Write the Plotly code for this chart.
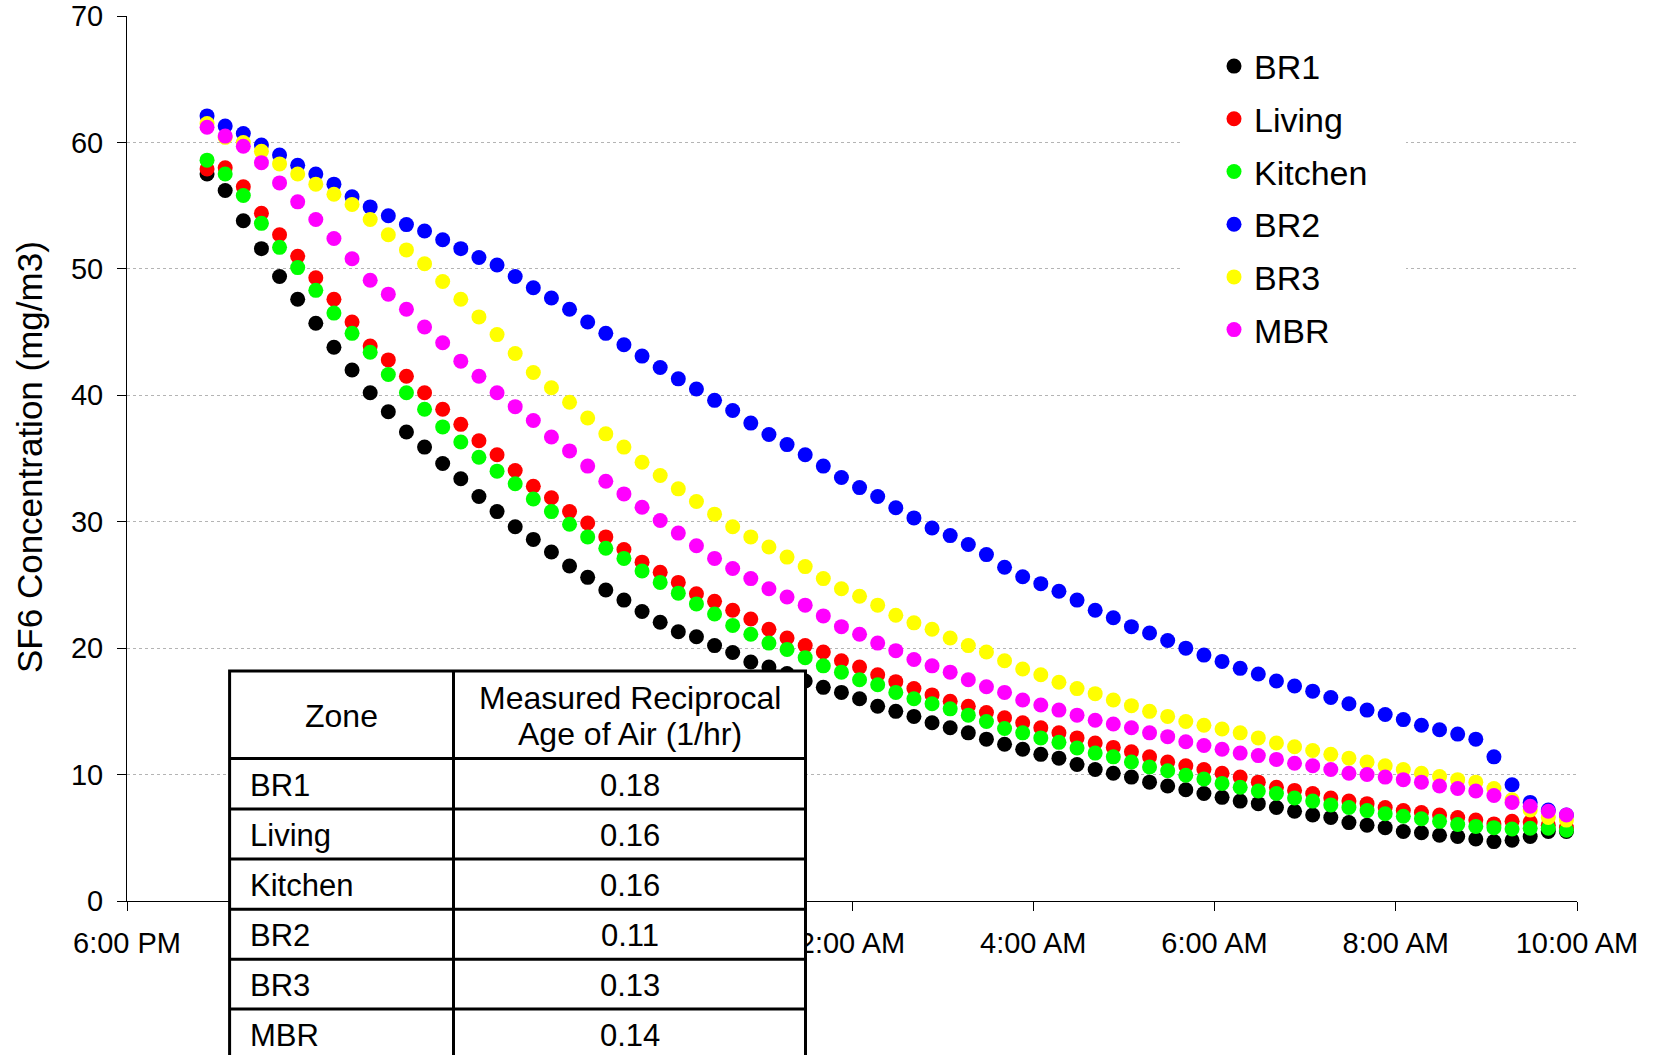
import pandas as pd
import plotly.graph_objects as go

# ---------------- data ----------------
START_TIME = "2000-01-01 18:53"
INTERVAL = "12min"

BR1 = [57.5, 56.2, 53.8, 51.6, 49.4, 47.6, 45.7, 43.8, 42.0, 40.2,
       38.7, 37.1, 35.9, 34.6, 33.4, 32.0, 30.8, 29.6, 28.6, 27.6,
       26.5, 25.6, 24.6, 23.8, 22.9, 22.05, 21.3, 20.9, 20.2, 19.65,
       18.9, 18.5, 18.0, 17.4, 16.9, 16.5, 16.0, 15.4, 15.0, 14.6,
       14.1, 13.7, 13.3, 12.8, 12.4, 12.0, 11.6, 11.3, 10.8, 10.4,
       10.1, 9.8, 9.4, 9.1, 8.8, 8.5, 8.2, 7.9, 7.7, 7.4,
       7.1, 6.8, 6.6, 6.2, 6.0, 5.8, 5.5, 5.4, 5.2, 5.1,
       4.9, 4.7, 4.8, 5.1, 5.5, 5.5]
LIVING = [57.9, 58.0, 56.5, 54.4, 52.7, 51.0, 49.3, 47.6, 45.8, 43.9,
          42.8, 41.5, 40.2, 38.9, 37.7, 36.4, 35.3, 34.05, 32.8, 31.9,
          30.8, 29.9, 28.8, 27.8, 26.8, 26.0, 25.2, 24.3, 23.7, 23.0,
          22.3, 21.5, 20.8, 20.2, 19.7, 19.0, 18.5, 17.9, 17.35, 16.8,
          16.3, 15.8, 15.4, 14.9, 14.5, 14.1, 13.7, 13.3, 12.9, 12.5,
          12.15, 11.8, 11.4, 11.0, 10.7, 10.4, 10.1, 9.8, 9.4, 9.0,
          8.75, 8.5, 8.15, 7.9, 7.7, 7.4, 7.15, 7.0, 6.8, 6.6,
          6.4, 6.1, 6.3, 6.25, 6.0, 5.8]
KITCHEN = [58.6, 57.5, 55.8, 53.6, 51.7, 50.1, 48.3, 46.5, 44.9, 43.4,
           41.65, 40.2, 38.9, 37.5, 36.3, 35.1, 34.0, 33.0, 31.8, 30.8,
           29.8, 28.8, 27.9, 27.1, 26.1, 25.2, 24.35, 23.5, 22.7, 21.8,
           21.1, 20.4, 19.9, 19.25, 18.6, 18.1, 17.5, 17.1, 16.5, 16.0,
           15.6, 15.2, 14.7, 14.2, 13.65, 13.3, 12.9, 12.55, 12.1, 11.7,
           11.4, 11.0, 10.6, 10.3, 9.95, 9.65, 9.3, 9.0, 8.7, 8.5,
           8.15, 7.9, 7.6, 7.4, 7.15, 6.9, 6.7, 6.5, 6.3, 6.05,
           5.9, 5.8, 5.7, 5.75, 5.75, 5.6]
BR2 = [62.1, 61.3, 60.7, 59.8, 59.0, 58.2, 57.5, 56.7, 55.7, 54.9,
       54.2, 53.5, 53.0, 52.3, 51.6, 50.9, 50.3, 49.4, 48.5, 47.7,
       46.8, 45.8, 44.9, 44.0, 43.1, 42.2, 41.3, 40.5, 39.6, 38.8,
       37.8, 36.9, 36.1, 35.3, 34.4, 33.5, 32.7, 32.0, 31.1, 30.3,
       29.5, 28.9, 28.2, 27.4, 26.4, 25.65, 25.1, 24.5, 23.8, 23.0,
       22.4, 21.7, 21.2, 20.6, 20.0, 19.45, 18.95, 18.4, 17.95, 17.4,
       17.0, 16.6, 16.1, 15.6, 15.1, 14.75, 14.35, 13.9, 13.55, 13.2,
       12.8, 11.4, 9.2, 7.8, 7.2, 6.8]
BR3 = [61.5, 60.4, 60.0, 59.3, 58.3, 57.5, 56.7, 55.9, 55.1, 53.9,
       52.7, 51.5, 50.4, 49.0, 47.6, 46.2, 44.8, 43.3, 41.8, 40.6,
       39.45, 38.2, 36.95, 35.9, 34.7, 33.65, 32.6, 31.6, 30.6, 29.6,
       28.8, 28.0, 27.2, 26.45, 25.5, 24.7, 24.1, 23.4, 22.6, 22.0,
       21.5, 20.8, 20.2, 19.7, 19.0, 18.35, 17.9, 17.3, 16.8, 16.4,
       15.9, 15.45, 15.0, 14.6, 14.2, 13.9, 13.6, 13.3, 12.9, 12.5,
       12.2, 11.9, 11.6, 11.3, 11.0, 10.7, 10.4, 10.1, 9.85, 9.6,
       9.4, 8.9, 8.0, 7.2, 6.6, 6.4]
MBR = [61.2, 60.5, 59.7, 58.4, 56.8, 55.3, 53.9, 52.4, 50.8, 49.1,
       48.0, 46.8, 45.4, 44.15, 42.7, 41.5, 40.2, 39.1, 38.0, 36.7,
       35.6, 34.4, 33.2, 32.2, 31.15, 30.1, 29.1, 28.1, 27.1, 26.3,
       25.5, 24.7, 24.05, 23.4, 22.55, 21.7, 21.1, 20.4, 19.8, 19.1,
       18.6, 18.1, 17.5, 16.95, 16.5, 15.9, 15.5, 15.1, 14.7, 14.3,
       14.0, 13.7, 13.3, 13.0, 12.6, 12.3, 12.0, 11.7, 11.5, 11.2,
       10.9, 10.7, 10.4, 10.1, 10.0, 9.8, 9.6, 9.4, 9.1, 8.9,
       8.7, 8.35, 7.8, 7.5, 7.1, 6.8]

SERIES_NAMES = ["BR1", "Living", "Kitchen", "BR2", "BR3", "MBR"]
SERIES_VALUES = [BR1, LIVING, KITCHEN, BR2, BR3, MBR]
SERIES_COLORS = ["#000000", "#FF0000", "#00FF00", "#0000FF", "#FFFF00", "#FF00FF"]

X_RANGE = ["2000-01-01 18:00", "2000-01-02 10:00"]
X_TICKS = ["2000-01-01 18:00", "2000-01-01 20:00", "2000-01-01 22:00",
           "2000-01-02 00:00", "2000-01-02 02:00", "2000-01-02 04:00",
           "2000-01-02 06:00", "2000-01-02 08:00", "2000-01-02 10:00"]
X_TICK_LABELS = ["6:00 PM", "8:00 PM", "10:00 PM", "12:00 AM", "2:00 AM",
                 "4:00 AM", "6:00 AM", "8:00 AM", "10:00 AM"]
Y_TICKS = [0, 10, 20, 30, 40, 50, 60, 70]

TABLE_ZONES = ["BR1", "Living", "Kitchen", "BR2", "BR3", "MBR"]
TABLE_RATES = ["0.18", "0.16", "0.16", "0.11", "0.13", "0.14"]

# ---------------- layout helpers ----------------
W, H = 1658, 1055
ML, MR, MT, MB = 127, 81, 16, 154
PW = W - ML - MR
PH = H - MT - MB
FONT = "Liberation Sans, Arial, sans-serif"


def px(x):
    return (x - ML) / PW


def py(y):
    return (H - MB - y) / PH


times = pd.date_range(START_TIME, periods=len(BR1), freq=INTERVAL)

fig = go.Figure()
for name, vals, col in zip(SERIES_NAMES, SERIES_VALUES, SERIES_COLORS):
    fig.add_trace(go.Scatter(
        x=times, y=vals, mode="markers", name=name, legendgroup=name,
        marker=dict(color=col, size=15, line=dict(width=0)),
    ))

# white box behind the legend (breaks the gridlines like the original)
shapes = [dict(type="rect", xref="paper", yref="paper", layer="above",
               x0=px(1180), x1=px(1406), y0=py(36), y1=py(350),
               fillcolor="white", line=dict(width=0))]

# table drawn above the plot
T_L, T_M, T_R = 229.6, 453.5, 805.5
T_TOP, T_BOT = 671, 1075
ROW_LINES = [758.5, 809, 859, 909.2, 959.2, 1009]
shapes.append(dict(type="rect", xref="paper", yref="paper", layer="above",
                   x0=px(T_L), x1=px(T_R), y0=py(T_TOP), y1=py(T_BOT),
                   fillcolor="white", line=dict(color="black", width=3)))
shapes.append(dict(type="line", xref="paper", yref="paper", layer="above",
                   x0=px(T_M), x1=px(T_M), y0=py(T_TOP), y1=py(T_BOT),
                   line=dict(color="black", width=3)))
for yl in ROW_LINES:
    shapes.append(dict(type="line", xref="paper", yref="paper", layer="above",
                       x0=px(T_L), x1=px(T_R), y0=py(yl), y1=py(yl),
                       line=dict(color="black", width=3)))

TFS = 31
HFS = 32
ann = [
    dict(text="SF6 Concentration (mg/m3)", textangle=-90, xref="paper", yref="paper",
         x=px(29), y=py(457), xanchor="center", yanchor="middle", showarrow=False,
         font=dict(family=FONT, size=35, color="black")),
    dict(text="Zone", xref="paper", yref="paper", x=px((T_L + T_M) / 2), y=py(716),
         xanchor="center", yanchor="middle", showarrow=False,
         font=dict(family=FONT, size=HFS, color="black")),
    dict(text="Measured Reciprocal", xref="paper", yref="paper", x=px((T_M + T_R) / 2), y=py(698),
         xanchor="center", yanchor="middle", showarrow=False,
         font=dict(family=FONT, size=HFS, color="black")),
    dict(text="Age of Air (1/hr)", xref="paper", yref="paper", x=px((T_M + T_R) / 2), y=py(734),
         xanchor="center", yanchor="middle", showarrow=False,
         font=dict(family=FONT, size=HFS, color="black")),
]
for j, (z, r) in enumerate(zip(TABLE_ZONES, TABLE_RATES)):
    yc = 785 + 50.1 * j
    ann.append(dict(text=z, xref="paper", yref="paper", x=px(248), y=py(yc),
                    xanchor="left", yanchor="middle", showarrow=False,
                    font=dict(family=FONT, size=TFS, color="black")))
    ann.append(dict(text=r, xref="paper", yref="paper", x=px((T_M + T_R) / 2), y=py(yc),
                    xanchor="center", yanchor="middle", showarrow=False,
                    font=dict(family=FONT, size=TFS, color="black")))

fig.update_layout(
    width=W, height=H,
    margin=dict(l=ML, r=MR, t=MT, b=MB, pad=0, autoexpand=False),
    paper_bgcolor="white", plot_bgcolor="white",
    font=dict(family=FONT, color="black"),
    showlegend=True,
    legend=dict(x=px(1214), y=py(37.5), xanchor="left", yanchor="top",
                bgcolor="rgba(255,255,255,0)", borderwidth=0,
                traceorder="grouped", tracegroupgap=5.5,
                font=dict(family=FONT, size=34, color="black")),
    xaxis=dict(type="date", range=X_RANGE, tickvals=X_TICKS, ticktext=X_TICK_LABELS,
               ticks="outside", ticklen=9, tickcolor="black", tickwidth=1,
               showline=True, linecolor="black", linewidth=1,
               showgrid=False, zeroline=False, automargin=False,
               tickfont=dict(family=FONT, size=29, color="black"),
               ticklabelstandoff=7),
    yaxis=dict(range=[0, 70], tickvals=Y_TICKS,
               ticks="outside", ticklen=9, tickcolor="black", tickwidth=1,
               showline=True, linecolor="black", linewidth=1,
               showgrid=True, gridcolor="#b4b4b4", griddash="dot", gridwidth=1,
               zeroline=False, automargin=False,
               tickfont=dict(family=FONT, size=29, color="black"),
               ticklabelstandoff=8),
    shapes=shapes,
    annotations=ann,
)

fig.write_html("out.html", config={"displayModeBar": False},
               post_script="document.body.style.margin='0px';document.body.style.overflow='hidden';")
